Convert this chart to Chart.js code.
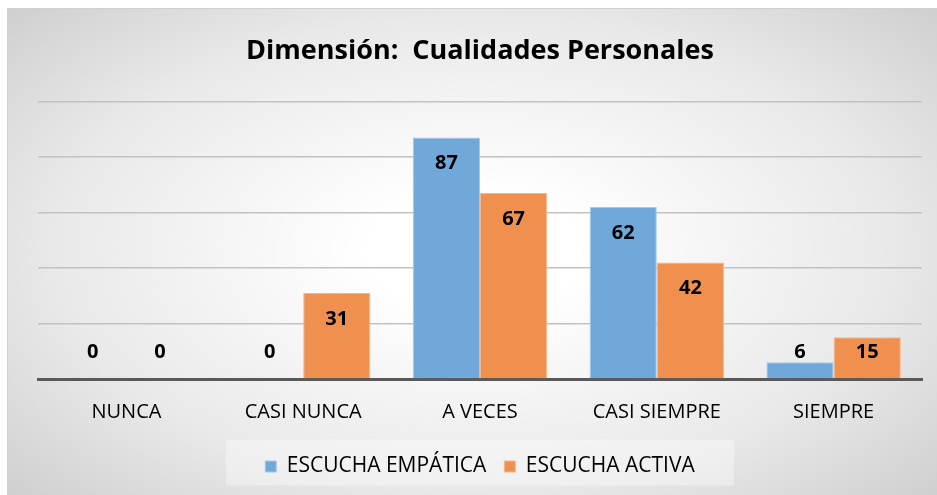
<!DOCTYPE html>
<html>
<head>
<meta charset="utf-8">
<script src="https://cdn.jsdelivr.net/npm/chart.js@4"></script>
<style>
  body { margin: 0; background: #fff; }
  #box {
    position: absolute; left: 7px; top: 8px; width: 930px; height: 487px;
    border-top: 1px solid #d0d0d0; border-left: 1px solid #d0d0d0;
    background: radial-gradient(ellipse 75% 80% at 50% 50%, #ffffff 15%, #e9e9e9 60%, #c8c8c8 100%);
    box-sizing: border-box;
  }
</style>
</head>
<body>
<div id="box"><canvas id="grafico" width="929" height="486"></canvas></div>
<script>
// datos del gráfico
const categorias = ["NUNCA", "CASI NUNCA", "A VECES", "CASI SIEMPRE", "SIEMPRE"];
const escuchaEmpatica = [0, 0, 87, 62, 6];
const escuchaActiva = [0, 31, 67, 42, 15];
const tituloTexto = "Dimensión:  Cualidades Personales";

const fuente = "'Open Sans', sans-serif";

// etiquetas de valores dentro del extremo de la barra
const etiquetasPlugin = {
    id: "etiquetas",
    afterDatasetsDraw(chart) {
        const ctx = chart.ctx;
        const base = chart.scales.y.getPixelForValue(0);
        ctx.save();
        ctx.font = "bold 20px " + fuente;
        ctx.fillStyle = "#000";
        ctx.textAlign = "center";
        ctx.textBaseline = "middle";
        chart.data.datasets.forEach((ds, i) => {
            chart.getDatasetMeta(i).data.forEach((bar, j) => {
                let y = Math.min(bar.y + 26, base - 27);
                ctx.fillText(ds.data[j], bar.x, y);
            });
        });
        ctx.restore();
    }
};

// fondo claro detrás de la leyenda
const fondoLeyenda = {
    id: "fondoLeyenda",
    beforeDraw(chart) {
        const lg = chart.legend;
        const ctx = chart.ctx;
        const centro = lg.top + lg.height / 2;
        ctx.save();
        ctx.fillStyle = "rgba(255,255,255,0.35)";
        ctx.fillRect(218, centro - 23, 508, 46);
        ctx.restore();
    }
};

new Chart(document.getElementById("grafico"), {
    type: "bar",
    data: {
        labels: categorias,
        datasets: [{
            label: "ESCUCHA EMPÁTICA",
            data: escuchaEmpatica,
            backgroundColor: "#70a8da",
            borderColor: "#a6c8ea",
            borderWidth: 1
        }, {
            label: "ESCUCHA ACTIVA",
            data: escuchaActiva,
            backgroundColor: "#f0904f",
            borderColor: "#f6b68c",
            borderWidth: 1
        }]
    },
    options: {
        responsive: false,
        animation: false,
        layout: { padding: { left: 30, right: 15, top: 0, bottom: 8 } },
        datasets: { bar: { categoryPercentage: 0.76, barPercentage: 1 } },
        scales: {
            x: {
                grid: { display: false },
                border: { color: "#595959", width: 3 },
                ticks: { color: "#000", padding: 13, font: { family: fuente, size: 20 } },
                afterFit(scale) { scale.height = 59; }
            },
            y: {
                min: 0, max: 100,
                ticks: { display: false, stepSize: 20 },
                grid: { color: "#c2c2c2", lineWidth: 1.5, drawTicks: false },
                border: { display: false }
            }
        },
        plugins: {
            title: {
                display: true,
                text: tituloTexto,
                color: "#000",
                font: { family: fuente, size: 27, weight: "bold" },
                padding: { top: 26, bottom: 34 }
            },
            legend: {
                position: "bottom",
                labels: {
                    color: "#000",
                    font: { family: fuente, size: 21 },
                    boxWidth: 11, boxHeight: 11,
                    padding: 18
                }
            },
            tooltip: { enabled: false }
        }
    },
    plugins: [etiquetasPlugin, fondoLeyenda]
});
</script>
</body>
</html>
